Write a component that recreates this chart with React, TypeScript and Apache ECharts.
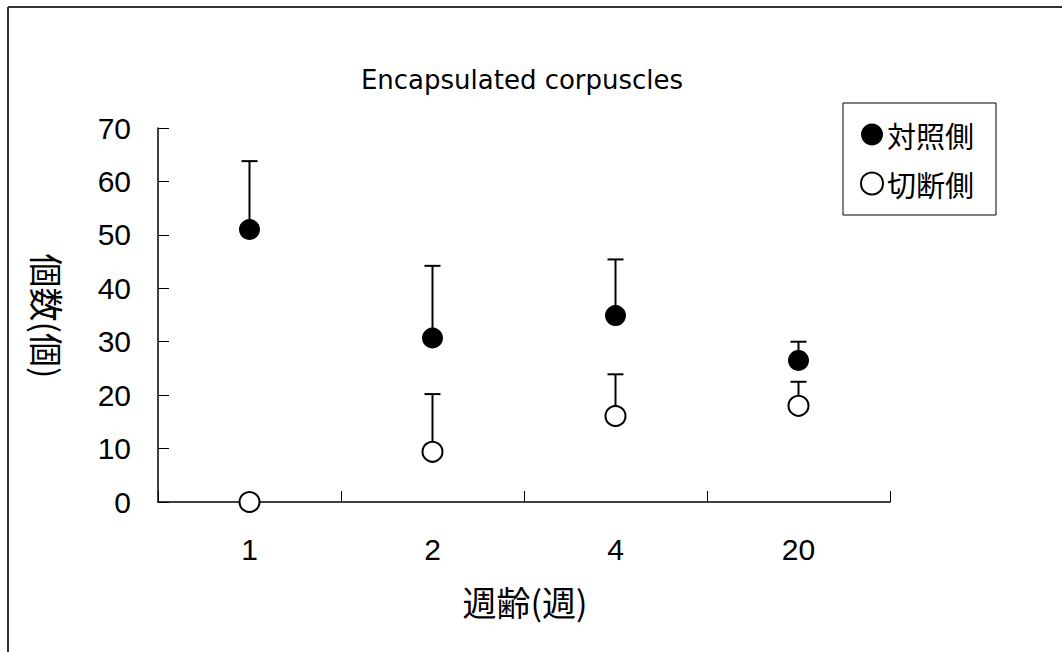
import React, { useEffect, useRef } from "react";
import * as echarts from "echarts";

const categories = ["1", "2", "4", "20"];
const controlMean = [51.0, 30.7, 34.9, 26.5];
const controlUpper = [63.8, 44.2, 45.4, 30.0];
const cutMean = [0, 9.4, 16.1, 18.0];
const cutUpper: (number | null)[] = [null, 20.2, 23.9, 22.5];
const yTicks = { min: 0, max: 70, interval: 10 };

const titleText = "Encapsulated corpuscles";
const xName = "週齢(週)";
const yName = "個数(個)";
const controlName = "対照側";
const cutName = "切断側";

export default function App() {
  const ref = useRef<HTMLDivElement>(null);
  useEffect(() => {
    if (!ref.current) return;
    const chart = echarts.init(ref.current, undefined, { renderer: "svg" });

    const errData = (means: number[], uppers: (number | null)[]) =>
      means
        .map((m, i) => (uppers[i] == null ? null : [i, m, uppers[i]]))
        .filter((d) => d !== null);

    const renderErr = (params: any, api: any) => {
      const x = api.value(0);
      const m = api.value(1);
      const u = api.value(2);
      const p0 = api.coord([x, m]);
      const p1 = api.coord([x, u]);
      const st = { stroke: "#000", lineWidth: 2 };
      return {
        type: "group",
        children: [
          { type: "line", shape: { x1: p0[0], y1: p0[1], x2: p1[0], y2: p1[1] }, style: st },
          { type: "line", shape: { x1: p1[0] - 8, y1: p1[1], x2: p1[0] + 8, y2: p1[1] }, style: st },
        ],
      };
    };

    const cjk = '"Noto Sans CJK JP", sans-serif';
    const num = '"Liberation Sans", Arial, sans-serif';

    chart.setOption({
      animation: false,
      backgroundColor: "#fff",
      grid: { left: 158, top: 128, right: 172, bottom: 150, containLabel: false },
      xAxis: {
        type: "category",
        data: categories,
        boundaryGap: true,
        axisLine: { show: true, lineStyle: { color: "#000", width: 1.5 } },
        axisTick: {
          show: true,
          inside: true,
          length: 11,
          alignWithLabel: false,
          interval: 0,
          lineStyle: { color: "#000", width: 1 },
        },
        axisLabel: { margin: 32, fontSize: 30, color: "#000", fontFamily: num },
        splitLine: { show: false },
      },
      yAxis: {
        type: "value",
        min: yTicks.min,
        max: yTicks.max,
        interval: yTicks.interval,
        axisLine: { show: true, lineStyle: { color: "#000", width: 1.5 } },
        axisTick: { show: true, inside: true, length: 11, lineStyle: { color: "#000", width: 1 } },
        axisLabel: { margin: 27, fontSize: 30, color: "#000", fontFamily: num },
        splitLine: { show: false },
      },
      legend: {
        data: [controlName, cutName],
        orient: "vertical",
        left: 843,
        top: 103,
        padding: [17, 22, 17, 17],
        itemGap: 20,
        itemWidth: 22,
        itemHeight: 22,
        borderColor: "#000",
        borderWidth: 1,
        backgroundColor: "#fff",
        textStyle: { fontSize: 29, color: "#000", fontFamily: cjk, padding: [0, 0, 0, -1] },
      },
      graphic: [
        {
          type: "line",
          shape: { x1: 8, y1: 7, x2: 1062, y2: 7 },
          style: { stroke: "#333", lineWidth: 2 },
          silent: true,
        },
        {
          type: "line",
          shape: { x1: 8, y1: 7, x2: 8, y2: 652 },
          style: { stroke: "#333", lineWidth: 2 },
          silent: true,
        },
        {
          type: "text",
          x: 522,
          y: 80,
          style: {
            text: titleText,
            fontSize: 26,
            fontFamily: '"DejaVu Sans", sans-serif',
            fill: "#000",
            align: "center",
            verticalAlign: "middle",
          },
        },
        {
          type: "text",
          x: 525,
          y: 601,
          style: {
            text: xName,
            fontSize: 34,
            fontFamily: cjk,
            fill: "#000",
            align: "center",
            verticalAlign: "middle",
          },
        },
        {
          type: "text",
          x: 47,
          y: 316,
          rotation: -Math.PI / 2,
          style: {
            text: yName,
            fontSize: 34,
            fontFamily: cjk,
            fill: "#000",
            align: "center",
            verticalAlign: "middle",
          },
        },
      ],
      series: [
        {
          type: "custom",
          name: "errControl",
          renderItem: renderErr,
          data: errData(controlMean, controlUpper),
          encode: { x: 0, y: [1, 2] },
          z: 1,
        },
        {
          type: "custom",
          name: "errCut",
          renderItem: renderErr,
          data: errData(cutMean, cutUpper),
          encode: { x: 0, y: [1, 2] },
          z: 1,
        },
        {
          type: "scatter",
          name: controlName,
          data: controlMean,
          symbol: "circle",
          symbolSize: 21,
          itemStyle: { color: "#000", borderColor: "#000", borderWidth: 0, opacity: 1 },
          z: 3,
        },
        {
          type: "scatter",
          name: cutName,
          data: cutMean,
          symbol: "circle",
          symbolSize: 20,
          itemStyle: { color: "#fff", borderColor: "#000", borderWidth: 2, opacity: 1 },
          clip: false,
          z: 3,
        },
      ],
    });
    return () => chart.dispose();
  }, []);
  return (
    <div
      ref={ref}
      style={{ position: "absolute", left: 0, top: 0, width: 1062, height: 652 }}
    />
  );
}
